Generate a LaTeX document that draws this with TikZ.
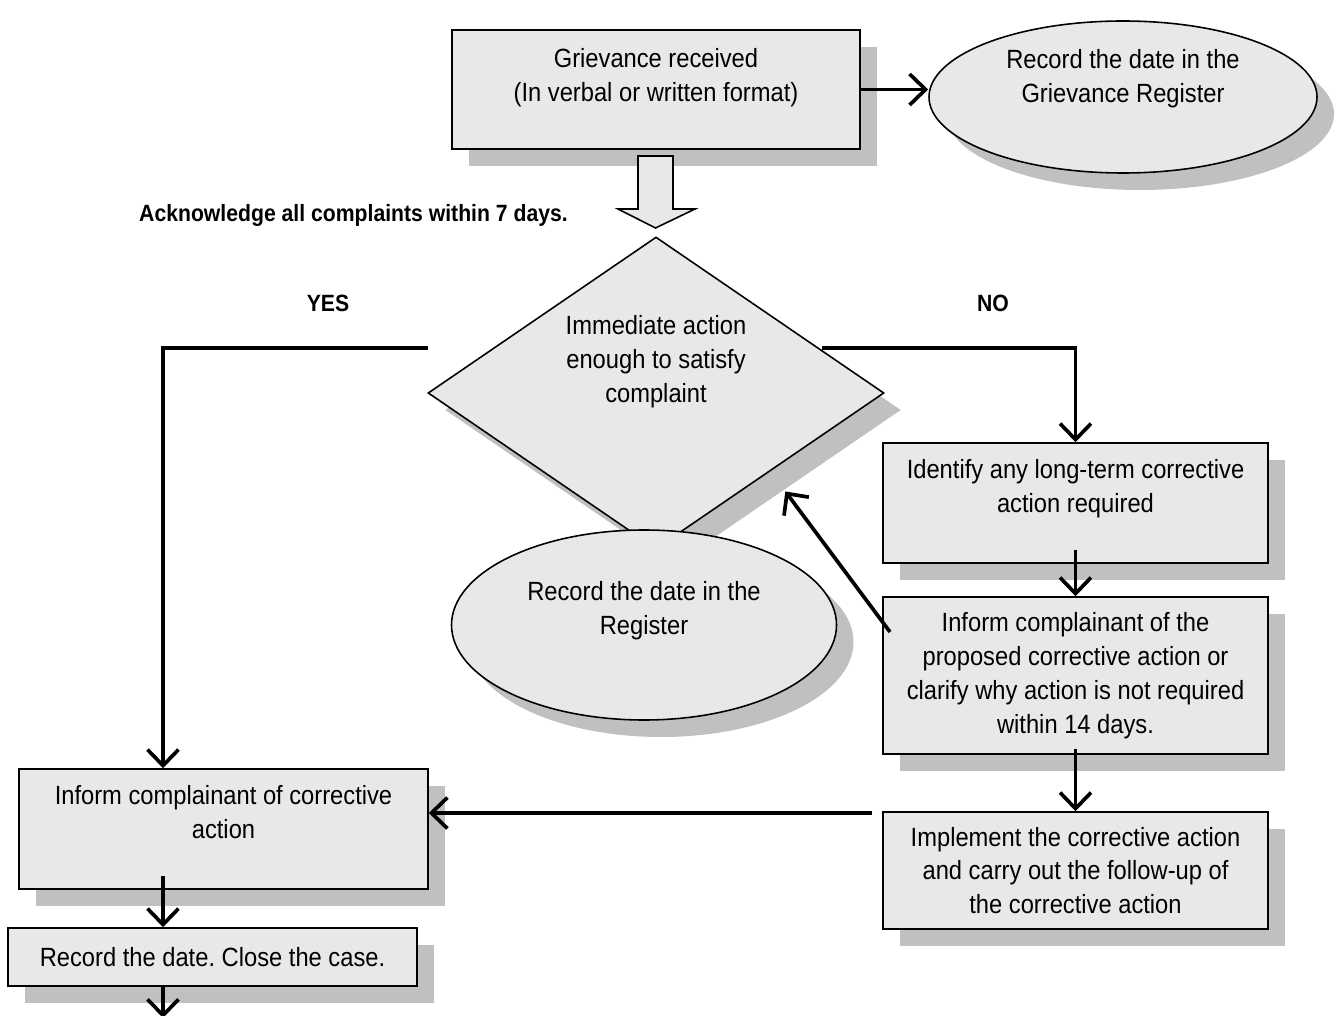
\documentclass[tikz,border=0pt]{standalone}
\usepackage{fontspec}
\setmainfont[FakeStretch=0.9]{Liberation Sans}
\frenchspacing
\usetikzlibrary{shapes.geometric,shadows,arrows.meta}

\definecolor{boxgray}{RGB}{232,232,232}
\definecolor{shadegray}{RGB}{192,192,192}

\newcommand{\pxl}[1]{#1*0.02cm}
\newcommand{\bx}{\node[stepbox]}
\newcommand{\ov}{\node[oval]}

\tikzset{
  base/.style={draw, line width=0.9pt, fill=boxgray, inner sep=0pt, align=center,
    font=\fontsize{15}{19.3}\selectfont,
    drop shadow={fill=shadegray, opacity=1, shadow xshift=0.34cm, shadow yshift=-0.34cm}},
  stepbox/.style={base, rectangle},
  oval/.style={base, ellipse},
  query/.style={base, diamond, aspect=1.46},
  arr/.style={line width=2.1pt, -{Straight Barb[length=0.32cm, width=0.62cm, line width=2.1pt]}},
  tag/.style={font=\bfseries\fontsize{13.4}{16}\selectfont}
}

\begin{document}
\begin{tikzpicture}[x=0.02cm, y=-0.02cm]
    \useasboundingbox (0,0) rectangle (1335,1016);

    \bx[minimum width=\pxl{408}, minimum height=\pxl{119}] (grv) at (656,89.5) {Grievance received\\(In verbal or written format)\\[-3pt]\mbox{}};
    \ov[minimum width=\pxl{388}, minimum height=\pxl{152}] (reg1) at (1123,97) {Record the date in the\\Grievance Register\\[5pt]\mbox{}};

    % hollow arrow under the first box
    \draw[line width=0.9pt, fill=boxgray] (638,156) -- (673,156) -- (673,209) -- (695,209)
        -- (655.5,228) -- (618,209) -- (638,209) -- cycle;

    \node[query, minimum width=\pxl{456}, minimum height=\pxl{312}] (dec) at (656,393) {Immediate action\\enough to satisfy\\complaint\\\mbox{}\\\mbox{}};
    \ov[minimum width=\pxl{385}, minimum height=\pxl{190}] (reg2) at (644,625) {Record the date in the\\Register\\\mbox{}};

    \bx[minimum width=\pxl{385}, minimum height=\pxl{120}] (ident) at (1075.5,503) {Identify any long-term corrective\\action required\\\mbox{}};
    \bx[minimum width=\pxl{385}, minimum height=\pxl{157}] (inf14) at (1075.5,675.5) {Inform complainant of the\\proposed corrective action or\\clarify why action is not required\\within 14 days.};
    \bx[minimum width=\pxl{385}, minimum height=\pxl{117}] (impl) at (1075.5,870.5) {Implement the corrective action\\and carry out the follow-up of\\the corrective action};
    \bx[minimum width=\pxl{409}, minimum height=\pxl{120}] (infc) at (223.5,829) {Inform complainant of corrective\\action\\\mbox{}};
    \bx[minimum width=\pxl{409}, minimum height=\pxl{58}] (rec) at (212.5,957) {Record the date. Close the case.};

    \node[tag, anchor=west] (ack) at (133,215) {Acknowledge all complaints within 7 days.};
    \node[tag] (yes) at (328,303) {YES};
    \node[tag] (no) at (993,303) {NO};

    \coordinate (yesA) at (428,348);
    \coordinate (yesB) at (163,0);
    \coordinate (noA) at (822,348);
    \coordinate (diagA) at (890,632);
    \coordinate (implA) at (872,813);
    \coordinate (endc) at (163,1018);

    \draw[arr] (grv.east) -- (grv.east -| reg1.west);
    \draw[arr] (yesA) -| (yesB |- infc.north);
    \draw[arr] (noA) -| (ident.north);
    \draw[arr, shorten <=-0.28cm] (ident.south) -- (inf14.north);
    \draw[arr, shorten <=-0.12cm] (inf14.south) -- (impl.north);
    \draw[arr, shorten >=0.5cm] (diagA) -- (dec.south east);
    \draw[arr] (implA) -- (implA -| infc.east);
    \draw[arr, shorten <=-0.28cm] (yesB |- infc.south) -- (yesB |- rec.north);
    \draw[arr] (yesB |- rec.south) -- (endc);
\end{tikzpicture}
\end{document}
